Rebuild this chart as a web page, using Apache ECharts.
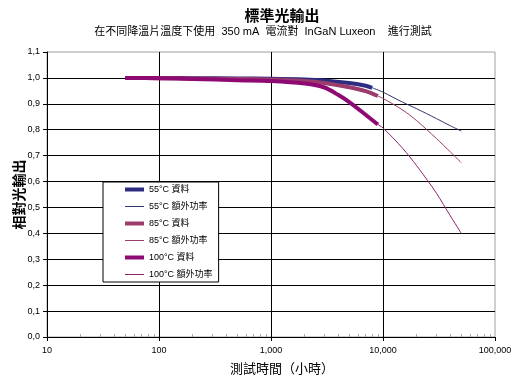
<!DOCTYPE html>
<html>
<head>
<meta charset="utf-8">
<script src="https://cdn.jsdelivr.net/npm/echarts@6/dist/echarts.min.js"></script>
<style>html,body{margin:0;padding:0;background:#fff;}#c{width:515px;height:378px;}</style>
</head>
<body>
<div id="c"></div>
<script>
// ---- data ----
var title = '標準光輸出';
var subtitle = '在不同降溫片溫度下使用  350 mA  電流對  InGaN Luxeon    進行測試';
var xName = '測試時間（小時）';
var yName = '相對光輸出';
var seriesNames = ['55°C 資料', '55°C 額外功率', '85°C 資料', '85°C 額外功率', '100°C 資料', '100°C 額外功率'];

var hours55 = [50, 100, 200, 500, 1000, 2000, 3000, 5000, 7000, 8000];
var data55 = [1.000, 1.000, 0.999, 0.998, 0.997, 0.994, 0.990, 0.980, 0.970, 0.962];
var hoursExt55 = [8000, 10000, 15000, 20000, 30000, 40000, 50000];
var ext55 = [0.962, 0.945, 0.906, 0.881, 0.843, 0.815, 0.795];

var hours85 = [50, 100, 200, 500, 1000, 2000, 3000, 5000, 7000, 9000];
var data85 = [1.000, 0.999, 0.998, 0.996, 0.994, 0.988, 0.980, 0.964, 0.949, 0.930];
var hoursExt85 = [9000, 10000, 15000, 20000, 30000, 40000, 50000];
var ext85 = [0.930, 0.921, 0.876, 0.835, 0.766, 0.714, 0.673];

var hours100 = [50, 100, 200, 500, 1000, 2000, 3000, 4000, 5000, 7000, 9000];
var data100 = [1.000, 0.999, 0.996, 0.991, 0.988, 0.978, 0.963, 0.934, 0.907, 0.858, 0.820];
var hoursExt100 = [9000, 10000, 15000, 20000, 25000, 30000, 40000, 50000];
var ext100 = [0.820, 0.807, 0.728, 0.661, 0.604, 0.555, 0.467, 0.400];

var minorTickValues = [];
[10, 100, 1000, 10000].forEach(function (d) {
  for (var k = 2; k <= 9; k++) minorTickValues.push(k * d);
});

// ---- build ----
function pairs(xs, ys) { return xs.map(function (x, i) { return [x, ys[i]]; }); }
var FONT = "'Liberation Sans', 'Noto Sans CJK TC', sans-serif";

var colors = ['#2e2c80', '#34346e', '#9a3d6c', '#9a3d6c', '#8e0a72', '#8a2270'];
var widths = [4, 1, 4, 1, 4, 1];
var xs = [hours55, hoursExt55, hours85, hoursExt85, hours100, hoursExt100];
var ys = [data55, ext55, data85, ext85, data100, ext100];

var series = seriesNames.map(function (n, i) {
  return {
    name: n, type: 'line', xAxisIndex: 0, yAxisIndex: 0,
    data: pairs(xs[i], ys[i]),
    symbol: 'none', smooth: 0.3,
    lineStyle: { color: colors[i], width: widths[i] },
    itemStyle: { color: colors[i] },
    z: i % 2 === 0 ? 3 : 2
  };
});

var legendData = seriesNames.map(function (n, i) {
  return { name: n, lineStyle: { width: widths[i], color: colors[i] } };
});

var chart = echarts.init(document.getElementById('c'), null, { renderer: 'canvas' });
chart.setOption({
  animation: false,
  backgroundColor: '#fff',
  textStyle: { fontFamily: FONT },
  title: [
    { text: title, left: 277, top: 4, textAlign: 'center',
      textStyle: { fontFamily: FONT, fontSize: 15, fontWeight: 'bold', color: '#000' } },
    { text: subtitle, left: 258, top: 21, textAlign: 'center',
      textStyle: { fontFamily: FONT, fontSize: 11, fontWeight: 'normal', color: '#000' } }
  ],
  grid: { left: 47, right: 20, top: 52, bottom: 41, outerBoundsMode: 'none', containLabel: false,
    show: true, borderColor: '#a0a0a0', borderWidth: 1 },
  legend: {
    data: legendData, orient: 'vertical', left: 103, top: 182,
    padding: [3, 6, 3, 20], itemGap: 8, itemWidth: 19, itemHeight: 11,
    borderColor: '#000', borderWidth: 1, backgroundColor: '#fff',
    itemStyle: { opacity: 0 },
    lineStyle: { width: 'inherit' },
    textStyle: { fontFamily: FONT, fontSize: 9, color: '#000' }
  },
  xAxis: [{
    type: 'log', logBase: 10, min: 10, max: 100000,
    name: xName, nameLocation: 'middle', nameGap: 26, nameMoveOverlap: false,
    nameTextStyle: { fontFamily: FONT, fontSize: 13, color: '#000', padding: [0, 0, 0, 22] },
    axisLine: { lineStyle: { color: '#000', width: 1 } },
    axisTick: { show: true, length: 4, lineStyle: { color: '#000' } },
    axisLabel: { fontFamily: FONT, fontSize: 9, color: '#000', margin: 9,
      formatter: function (v) { return Math.round(v).toLocaleString('en-US'); } },
    splitLine: { show: true, showMinLine: false, showMaxLine: false, lineStyle: { color: '#000', width: 1 } }
  }, {
    type: 'log', logBase: 10, min: 10, max: 100000, position: 'bottom',
    axisLine: { show: false },
    axisTick: { show: true, inside: true, length: 3, customValues: minorTickValues, lineStyle: { color: '#aaa' } },
    axisLabel: { show: false },
    splitLine: { show: false }
  }],
  yAxis: {
    type: 'value', min: 0, max: 1.1, interval: 0.1,
    name: yName, nameLocation: 'middle', nameGap: 20, nameRotate: 90, nameMoveOverlap: false,
    nameTextStyle: { fontFamily: FONT, fontSize: 14, fontWeight: 'bold', color: '#000' },
    axisLine: { show: true, lineStyle: { color: '#000', width: 1 } },
    axisTick: { show: true, length: 4, lineStyle: { color: '#000' } },
    axisLabel: { fontFamily: FONT, fontSize: 9, color: '#000', margin: 7,
      formatter: function (v) { return v.toFixed(1).replace('.', ','); } },
    splitLine: { show: true, showMinLine: false, showMaxLine: false, lineStyle: { color: '#000', width: 1 } }
  },
  series: series
});
</script>
</body>
</html>
